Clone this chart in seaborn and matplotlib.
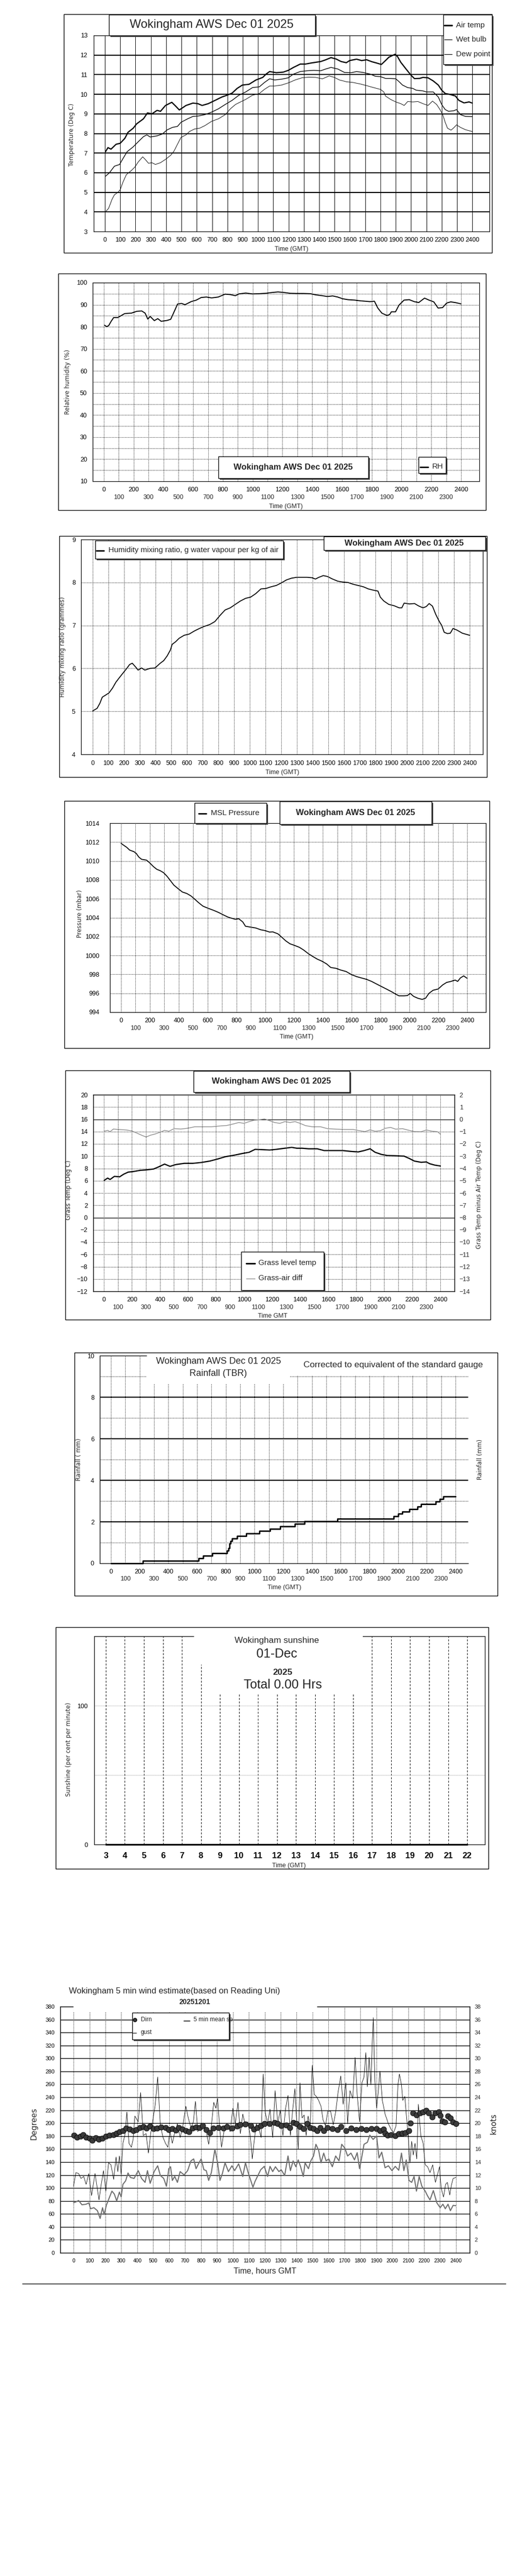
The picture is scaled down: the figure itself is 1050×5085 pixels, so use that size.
import numpy as np
import pandas as pd
import matplotlib
matplotlib.use("Agg")
import matplotlib.pyplot as plt
import seaborn as sns
from matplotlib.patches import Rectangle
from matplotlib.lines import Line2D

sns.set_style("white")
plt.rcParams['font.family'] = ['Liberation Sans', 'DejaVu Sans']

# ---------------- DATA ----------------
TITLE = "Wokingham AWS Dec 01 2025"

# Panel 1: temperatures
air_t = [4, 20, 40, 73, 100, 130, 151, 185, 207, 252, 278, 307, 341, 363, 396, 437, 463, 486, 530, 575, 608, 635, 675, 720, 764, 797, 831, 864, 898, 942, 987, 1031, 1053, 1076, 1120, 1165, 1198, 1232, 1276, 1310, 1343, 1376, 1410, 1443, 1477, 1510, 1543, 1577, 1599, 1644, 1677, 1710, 1744, 1777, 1806, 1833, 1855, 1895, 1911, 1933, 1967, 2000, 2022, 2056, 2078, 2111, 2145, 2178, 2200, 2223, 2256, 2290, 2312, 2346, 2379, 2400]
air_c = [7.07, 7.28, 7.2, 7.45, 7.5, 7.75, 8.06, 8.27, 8.49, 8.75, 9.05, 9.0, 9.18, 9.13, 9.43, 9.59, 9.39, 9.2, 9.43, 9.55, 9.52, 9.43, 9.52, 9.69, 9.86, 9.95, 10.06, 10.3, 10.47, 10.51, 10.73, 10.86, 11.03, 11.16, 11.1, 11.13, 11.22, 11.37, 11.54, 11.54, 11.59, 11.63, 11.67, 11.76, 11.87, 11.8, 11.67, 11.61, 11.72, 11.79, 11.72, 11.76, 11.66, 11.59, 11.52, 11.72, 11.89, 12.04, 11.93, 11.63, 11.29, 10.97, 10.8, 10.81, 10.86, 10.84, 10.68, 10.47, 10.21, 10.04, 9.99, 9.91, 9.69, 9.56, 9.61, 9.55]

wet_t = [4, 29, 62, 96, 118, 145, 185, 218, 252, 274, 296, 341, 374, 408, 441, 474, 497, 541, 575, 608, 653, 697, 742, 786, 831, 875, 920, 964, 1009, 1042, 1076, 1109, 1154, 1198, 1232, 1276, 1321, 1365, 1410, 1443, 1477, 1521, 1566, 1610, 1644, 1688, 1733, 1766, 1800, 1833, 1866, 1900, 1922, 1944, 1978, 2011, 2033, 2078, 2100, 2145, 2178, 2200, 2223, 2245, 2279, 2297, 2323, 2356, 2400]
wet_c = [5.82, 5.99, 6.33, 6.42, 6.72, 7.07, 7.32, 7.58, 7.84, 7.93, 7.82, 7.88, 7.97, 8.19, 8.31, 8.36, 8.57, 8.75, 8.87, 8.89, 8.96, 9.09, 9.26, 9.48, 9.69, 9.95, 10.12, 10.34, 10.38, 10.6, 10.79, 10.73, 10.77, 10.84, 11.03, 11.16, 11.2, 11.22, 11.2, 11.29, 11.37, 11.29, 11.11, 11.1, 11.16, 11.11, 11.03, 10.92, 10.9, 10.81, 10.81, 10.79, 10.64, 10.47, 10.34, 10.3, 10.21, 10.17, 10.12, 10.12, 9.86, 9.48, 9.22, 9.13, 9.16, 9.22, 8.96, 8.87, 8.86]

dew_t = [4, 24, 47, 62, 85, 100, 118, 140, 174, 196, 218, 247, 263, 285, 307, 330, 363, 396, 430, 452, 474, 497, 530, 552, 586, 619, 653, 697, 742, 786, 820, 853, 886, 920, 964, 1009, 1042, 1076, 1109, 1154, 1198, 1243, 1287, 1332, 1376, 1421, 1443, 1465, 1499, 1532, 1577, 1621, 1666, 1710, 1755, 1800, 1822, 1833, 1866, 1900, 1933, 1955, 1978, 2011, 2045, 2078, 2111, 2140, 2167, 2189, 2207, 2223, 2238, 2261, 2279, 2297, 2323, 2356, 2400]
dew_c = [4.01, 4.18, 4.65, 4.87, 5.0, 5.13, 5.52, 5.9, 6.12, 6.29, 6.55, 6.81, 6.68, 6.48, 6.51, 6.42, 6.51, 6.68, 6.89, 7.11, 7.45, 7.8, 7.93, 8.1, 8.23, 8.27, 8.4, 8.62, 8.75, 8.96, 9.26, 9.48, 9.61, 9.74, 9.95, 10.04, 10.25, 10.42, 10.42, 10.47, 10.58, 10.73, 10.84, 10.87, 10.86, 10.79, 10.86, 10.94, 10.86, 10.73, 10.64, 10.6, 10.53, 10.44, 10.34, 10.25, 10.12, 9.91, 9.74, 9.61, 9.52, 9.43, 9.63, 9.61, 9.63, 9.52, 9.43, 9.65, 9.48, 9.22, 8.96, 8.57, 8.27, 8.17, 8.29, 8.44, 8.31, 8.19, 8.1]

# Panel 2: relative humidity
rh_t = [5, 18, 32, 48, 66, 94, 117, 140, 185, 220, 254, 277, 295, 311, 339, 362, 385, 426, 449, 476, 495, 522, 545, 586, 621, 655, 689, 724, 769, 815, 850, 884, 907, 953, 998, 1044, 1090, 1136, 1170, 1205, 1250, 1296, 1342, 1388, 1422, 1468, 1502, 1537, 1571, 1605, 1640, 1685, 1720, 1754, 1788, 1818, 1841, 1868, 1903, 1921, 1932, 1960, 1983, 2017, 2052, 2086, 2116, 2155, 2185, 2217, 2246, 2276, 2304, 2331, 2361, 2400]
rh_pct = [80.7, 80.1, 80.5, 82.4, 84.2, 84.2, 85.1, 86.0, 86.2, 87.0, 87.2, 86.2, 83.5, 84.7, 82.8, 83.7, 82.5, 82.9, 83.4, 87.4, 90.3, 90.6, 90.0, 91.4, 92.1, 93.3, 93.5, 93.1, 93.5, 94.8, 94.6, 94.1, 94.9, 95.3, 94.9, 95.0, 95.2, 95.6, 95.8, 95.6, 95.2, 95.1, 95.1, 95.0, 94.5, 94.1, 93.7, 94.0, 93.5, 92.7, 92.3, 92.1, 91.8, 91.6, 91.4, 91.6, 88.5, 86.2, 85.1, 85.6, 86.8, 86.8, 89.8, 92.1, 92.3, 91.4, 91.0, 93.0, 92.1, 91.3, 88.5, 88.7, 90.8, 91.3, 91.0, 90.4]

# Panel 3: humidity mixing ratio
hmr_t = [0, 28, 46, 61, 83, 104, 126, 148, 169, 195, 217, 235, 252, 274, 289, 311, 332, 365, 397, 430, 452, 474, 495, 506, 528, 550, 582, 615, 647, 680, 712, 745, 778, 810, 843, 876, 908, 941, 973, 1006, 1038, 1071, 1103, 1136, 1169, 1201, 1234, 1266, 1299, 1331, 1364, 1397, 1418, 1440, 1468, 1494, 1527, 1560, 1592, 1625, 1657, 1690, 1723, 1755, 1788, 1816, 1831, 1853, 1885, 1918, 1951, 1968, 1983, 2016, 2049, 2077, 2103, 2124, 2142, 2163, 2185, 2207, 2222, 2238, 2259, 2277, 2294, 2320, 2353, 2400]
hmr_g = [5.01, 5.07, 5.19, 5.33, 5.38, 5.43, 5.54, 5.68, 5.78, 5.9, 6.0, 6.09, 6.12, 6.03, 5.96, 6.01, 5.96, 6.0, 6.01, 6.12, 6.18, 6.29, 6.43, 6.56, 6.62, 6.7, 6.77, 6.8, 6.87, 6.93, 6.98, 7.02, 7.09, 7.23, 7.36, 7.41, 7.49, 7.57, 7.63, 7.66, 7.74, 7.85, 7.86, 7.9, 7.93, 7.99, 8.06, 8.1, 8.12, 8.12, 8.12, 8.11, 8.08, 8.12, 8.16, 8.14, 8.08, 8.03, 8.01, 8.0, 7.96, 7.93, 7.9, 7.85, 7.82, 7.8, 7.66, 7.57, 7.49, 7.46, 7.41, 7.41, 7.52, 7.5, 7.51, 7.45, 7.41, 7.44, 7.51, 7.45, 7.25, 7.09, 7.0, 6.84, 6.81, 6.82, 6.93, 6.89, 6.82, 6.77]

# Panel 4: MSL pressure
msl_t = [0, 17, 40, 59, 90, 106, 123, 142, 177, 201, 225, 248, 272, 296, 319, 343, 366, 395, 426, 456, 485, 508, 537, 568, 603, 638, 674, 709, 740, 769, 792, 816, 844, 863, 899, 934, 969, 1000, 1029, 1052, 1088, 1111, 1142, 1171, 1206, 1237, 1265, 1300, 1331, 1360, 1395, 1426, 1454, 1490, 1525, 1561, 1596, 1632, 1667, 1703, 1738, 1773, 1809, 1845, 1880, 1904, 1927, 1963, 1986, 2005, 2029, 2057, 2088, 2112, 2135, 2164, 2199, 2230, 2258, 2287, 2317, 2334, 2353, 2376, 2400]
msl_mb = [1011.87, 1011.68, 1011.44, 1011.16, 1010.98, 1010.79, 1010.42, 1010.18, 1010.09, 1009.77, 1009.4, 1009.12, 1008.97, 1008.75, 1008.38, 1007.91, 1007.45, 1007.08, 1006.71, 1006.56, 1006.3, 1006.0, 1005.6, 1005.22, 1005.0, 1004.8, 1004.57, 1004.3, 1004.07, 1003.93, 1003.83, 1003.89, 1003.55, 1003.09, 1003.0, 1002.91, 1002.72, 1002.63, 1002.48, 1002.5, 1002.29, 1001.98, 1001.55, 1001.24, 1001.05, 1000.86, 1000.59, 1000.18, 999.88, 999.62, 999.38, 999.1, 998.73, 998.64, 998.45, 998.3, 997.99, 997.77, 997.62, 997.47, 997.25, 996.97, 996.69, 996.41, 996.13, 995.91, 995.73, 995.73, 995.76, 995.99, 995.67, 995.48, 995.35, 995.48, 995.99, 996.32, 996.45, 996.88, 997.15, 997.25, 997.4, 997.25, 997.62, 997.84, 997.58]

# Panel 5: grass temperature and grass-air difference
grass_t = [2, 27, 44, 75, 112, 141, 173, 209, 258, 306, 355, 391, 433, 472, 513, 574, 635, 695, 756, 817, 866, 926, 987, 1036, 1079, 1133, 1182, 1230, 1291, 1340, 1376, 1413, 1461, 1522, 1571, 1643, 1704, 1765, 1814, 1857, 1899, 1935, 1979, 2020, 2081, 2142, 2178, 2215, 2263, 2300, 2324, 2361, 2400]
grass_c = [6.06, 6.43, 6.2, 6.71, 6.63, 7.06, 7.4, 7.49, 7.69, 7.77, 7.91, 8.26, 8.71, 8.34, 8.63, 8.83, 8.83, 8.97, 9.2, 9.57, 9.91, 10.14, 10.43, 10.63, 11.11, 11.06, 11.0, 11.11, 11.29, 11.43, 11.29, 11.29, 11.2, 11.2, 10.91, 10.91, 10.91, 10.77, 10.69, 10.91, 11.2, 10.63, 10.29, 10.11, 10.06, 10.0, 9.63, 9.2, 9.0, 9.06, 8.77, 8.54, 8.4]
gdiff_t = [2, 27, 44, 68, 100, 160, 197, 233, 270, 301, 331, 367, 404, 433, 464, 501, 549, 598, 647, 708, 768, 829, 878, 926, 963, 999, 1036, 1072, 1109, 1145, 1182, 1218, 1255, 1291, 1328, 1364, 1400, 1437, 1486, 1546, 1595, 1656, 1717, 1777, 1826, 1862, 1899, 1935, 1972, 2008, 2045, 2081, 2130, 2166, 2215, 2263, 2300, 2343, 2380, 2400]
gdiff_c = [-0.97, -0.9, -1.01, -0.79, -0.83, -0.87, -0.94, -1.11, -1.3, -1.44, -1.3, -1.19, -1.04, -0.9, -0.97, -0.76, -0.79, -0.73, -0.61, -0.61, -0.61, -0.54, -0.5, -0.37, -0.26, -0.33, -0.19, -0.07, -0.04, 0.03, -0.11, -0.26, -0.33, -0.19, -0.26, -0.19, -0.33, -0.51, -0.61, -0.61, -0.76, -0.8, -0.83, -0.83, -0.93, -1.0, -0.86, -0.97, -0.93, -0.73, -0.66, -0.8, -0.76, -0.87, -1.0, -1.01, -0.87, -0.97, -1.01, -1.21]

# Panel 6: cumulative rainfall (TBR)
rain_t = [0, 221, 610, 641, 705, 807, 818, 826, 834, 842, 878, 942, 1033, 1108, 1180, 1282, 1348, 1578, 1970, 2001, 2029, 2077, 2136, 2160, 2262, 2290, 2314, 2400]
rain_mm = [0.0, 0.11, 0.24, 0.37, 0.48, 0.60, 0.72, 0.96, 1.08, 1.20, 1.32, 1.44, 1.56, 1.67, 1.78, 1.90, 2.03, 2.15, 2.27, 2.40, 2.48, 2.60, 2.73, 2.85, 2.97, 3.10, 3.21, 3.21]

# Panel 7: sunshine
sun_hour = list(range(3, 23))
sun_pct = [0] * 20
SUN_TOTAL = "Total 0.00 Hrs"

# Panel 8: wind
dir_t = [4, 21, 43, 60, 79, 100, 118, 139, 160, 182, 203, 224, 250, 271, 288, 310, 331, 353, 374, 395, 417, 438, 459, 481, 502, 524, 549, 577, 598, 620, 641, 662, 684, 705, 726, 748, 769, 791, 812, 833, 855, 876, 908, 940, 962, 994, 1026, 1047, 1079, 1111, 1132, 1154, 1175, 1197, 1229, 1261, 1282, 1303, 1335, 1357, 1378, 1400, 1421, 1442, 1464, 1485, 1506, 1528, 1549, 1570, 1592, 1624, 1656, 1677, 1709, 1741, 1773, 1805, 1838, 1870, 1902, 1923, 1944, 1955, 1972, 1994, 2019, 2041, 2062, 2083, 2105, 2115, 2130, 2152, 2173, 2194, 2211, 2228, 2250, 2271, 2292, 2301, 2314, 2329, 2350, 2365, 2382, 2400]
dir_deg = [181.6, 178, 179.5, 182.5, 178.6, 176.5, 173.5, 177.4, 175, 176.5, 179.5, 181.6, 182.5, 184.6, 187, 188.6, 192.5, 190.7, 188.6, 190, 193, 194.6, 192.5, 195.5, 191.6, 192.5, 193.7, 193, 190, 191.6, 189.5, 193, 190.7, 188.6, 187, 192.5, 193.7, 193, 196, 190, 185.5, 192.5, 193, 192.5, 194.6, 192.5, 195.5, 197.6, 198.5, 196, 190.7, 193, 196, 199, 199, 200.6, 199, 196, 196.7, 193, 200.6, 199, 194.6, 191.6, 199, 193, 191.6, 188.6, 193, 188.6, 193, 191.6, 190, 194.6, 188.6, 192.5, 190, 191.6, 190, 191.6, 191.6, 188.6, 190.7, 184.6, 181.6, 182.5, 181, 184, 184.6, 185.5, 188.6, 200, 215.7, 212.7, 215.7, 217, 220, 215.7, 209.6, 215.7, 217, 211.7, 203.6, 202, 211, 208, 202, 199.7]

spd_t = [0, 15, 32, 53, 79, 96, 107, 128, 150, 167, 182, 192, 207, 224, 241, 256, 271, 288, 299, 310, 327, 342, 357, 380, 406, 427, 449, 464, 481, 506, 528, 545, 566, 583, 598, 609, 620, 635, 652, 669, 694, 716, 737, 754, 769, 784, 801, 818, 833, 848, 865, 887, 904, 919, 934, 951, 972, 994, 1011, 1036, 1062, 1079, 1096, 1126, 1139, 1154, 1175, 1197, 1218, 1233, 1250, 1267, 1289, 1303, 1325, 1346, 1361, 1378, 1395, 1410, 1425, 1442, 1453, 1474, 1489, 1506, 1521, 1538, 1553, 1570, 1585, 1602, 1624, 1645, 1666, 1683, 1703, 1720, 1741, 1763, 1780, 1795, 1810, 1823, 1844, 1859, 1880, 1902, 1917, 1934, 1955, 1976, 1998, 2019, 2041, 2058, 2073, 2088, 2105, 2122, 2137, 2152, 2169, 2186, 2207, 2222, 2237, 2258, 2280, 2301, 2318, 2333, 2350, 2365, 2382, 2400]
spd_kt = [7.7, 7.86, 8.07, 7.41, 7.5, 7.7, 6.8, 6.96, 6.5, 5.3, 6.96, 5.9, 7.41, 8.46, 9.52, 9.07, 8.01, 9.37, 8.61, 10.57, 11.11, 12.32, 11.63, 11.48, 12.68, 11.48, 10.87, 12.68, 10.72, 12.53, 13.43, 11.93, 11.48, 10.27, 12.98, 13.28, 11.17, 11.78, 10.87, 12.53, 12.02, 12.68, 14.19, 14.49, 12.98, 13.73, 14.49, 12.83, 12.68, 11.17, 12.38, 15.99, 13.89, 11.17, 12.23, 13.89, 12.53, 13.43, 12.68, 13.73, 11.78, 13.89, 12.38, 10.12, 11.02, 11.78, 12.83, 13.34, 11.78, 13.34, 12.53, 13.28, 12.53, 12.83, 11.93, 14.94, 12.68, 14.19, 13.28, 14.34, 13.28, 11.78, 13.89, 12.98, 14.19, 14.94, 16.75, 15.84, 13.89, 15.39, 14.19, 14.49, 13.28, 14.94, 14.19, 16.75, 16.14, 14.94, 15.39, 14.34, 15.45, 12.98, 14.94, 16.75, 17.05, 18.16, 17.5, 18.04, 14.64, 15.54, 13.13, 13.43, 12.68, 13.34, 12.74, 15.39, 12.68, 14.34, 11.17, 10.87, 11.78, 9.52, 11.78, 10.27, 9.52, 8.77, 8.16, 9.61, 7.71, 6.96, 7.5, 6.8, 7.5, 6.5, 7.32, 7.26]

gust_t = [0, 15, 32, 47, 64, 79, 96, 113, 135, 160, 173, 188, 203, 220, 235, 252, 267, 278, 288, 299, 310, 323, 335, 348, 363, 374, 385, 406, 421, 438, 455, 470, 485, 498, 513, 528, 545, 562, 577, 592, 605, 620, 635, 652, 669, 684, 705, 720, 737, 752, 765, 780, 801, 818, 833, 848, 865, 880, 893, 904, 919, 929, 944, 962, 983, 1000, 1015, 1032, 1047, 1062, 1079, 1094, 1109, 1122, 1132, 1147, 1165, 1177, 1190, 1203, 1218, 1233, 1250, 1265, 1282, 1297, 1314, 1331, 1346, 1361, 1374, 1389, 1400, 1410, 1421, 1434, 1447, 1460, 1472, 1485, 1498, 1511, 1524, 1538, 1553, 1566, 1581, 1596, 1613, 1630, 1645, 1660, 1677, 1692, 1709, 1720, 1735, 1752, 1767, 1780, 1795, 1810, 1823, 1834, 1844, 1855, 1866, 1874, 1881, 1891, 1902, 1912, 1923, 1938, 1955, 1976, 1994, 2009, 2024, 2036, 2045, 2058, 2066, 2079, 2088, 2100, 2111, 2122, 2132, 2143, 2154, 2164, 2179, 2194, 2207, 2222, 2237, 2254, 2271, 2284, 2297, 2307, 2322, 2335, 2346, 2361, 2371, 2382, 2400]
gust_kt = [10.27, 12.38, 12.23, 11.48, 11.78, 10.57, 12.23, 8.83, 12.23, 8.16, 10.42, 12.68, 9.52, 13.89, 13.58, 11.33, 14.79, 12.53, 14.94, 12.08, 16.9, 18.25, 21.72, 16.9, 16.3, 17.5, 21.11, 20.21, 24.73, 18.1, 18.4, 15.39, 18.55, 20.51, 22.92, 27.14, 19.61, 17.8, 16.9, 16.3, 18.7, 16.9, 18.55, 19.91, 17.8, 19.31, 22.62, 20.81, 19.31, 20.21, 23.37, 18.7, 19.91, 19.16, 18.7, 16.75, 19.61, 23.22, 22.32, 23.83, 18.7, 16.3, 18.7, 19.91, 18.7, 22.32, 19.91, 23.22, 18.4, 21.42, 19.61, 20.21, 18.1, 14.49, 16.9, 19.91, 19.0, 17.8, 27.59, 21.72, 19.91, 22.17, 17.8, 25.03, 19.91, 22.02, 18.1, 22.32, 24.28, 18.1, 21.72, 25.33, 20.51, 15.99, 26.23, 20.81, 21.27, 18.1, 21.11, 19.31, 28.95, 24.43, 24.13, 23.52, 22.62, 20.51, 19.61, 21.87, 21.87, 19.76, 21.72, 24.73, 27.29, 22.92, 26.23, 19.91, 25.03, 23.83, 30.15, 24.43, 20.21, 26.23, 27.14, 30.9, 25.63, 30.15, 25.93, 31.96, 36.3, 26.54, 22.32, 24.73, 28.04, 23.52, 21.42, 19.91, 19.0, 18.55, 19.61, 25.93, 27.59, 25.93, 23.52, 24.13, 21.42, 18.1, 13.89, 17.2, 15.09, 16.9, 14.49, 22.92, 18.1, 16.9, 13.58, 13.28, 12.38, 13.58, 10.87, 12.08, 13.28, 9.97, 8.61, 10.57, 10.87, 8.92, 10.42, 11.48, 11.63]

# ---------------- FIGURE ----------------
W, H = 1050, 5085
fig = plt.figure(figsize=(W / 100, H / 100), dpi=100)
fig.patch.set_facecolor("white")
DOT = (0, (1, 1.6))


def add_ax(x0, y0, x1, y1):
    ax = fig.add_axes([x0 / W, 1 - y1 / H, (x1 - x0) / W, (y1 - y0) / H])
    ax.set_facecolor("white")
    for s in ax.spines.values():
        s.set_color("black")
        s.set_linewidth(0.9)
    ax.tick_params(length=0, labelsize=9, colors="black")
    return ax


def rect(x0, y0, x1, y1, fc=None, ec="black", lw=1.0, z=1.5):
    fig.patches.append(Rectangle((x0 / W, 1 - y1 / H), (x1 - x0) / W, (y1 - y0) / H,
                                 transform=fig.transFigure, fill=fc is not None,
                                 facecolor=fc if fc else "white", edgecolor=ec,
                                 lw=lw, zorder=z))


def box(x0, y0, x1, y1, shadow=3):
    if shadow:
        rect(x0 + shadow, y0 + shadow, x1 + shadow, y1 + shadow, fc="#4a4a4a", ec="#4a4a4a", lw=0, z=4)
    rect(x0, y0, x1, y1, fc="white", ec="black", lw=1.0, z=4.1)


def ftext(x, y, s, **kw):
    kw.setdefault("ha", "center")
    kw.setdefault("va", "center")
    kw.setdefault("zorder", 5)
    fig.text(x / W, 1 - y / H, s, **kw)


def fline(x0, x1, y0, y1=None, **kw):
    if y1 is None:
        y1 = y0
    kw.setdefault("zorder", 5)
    fig.add_artist(Line2D([x0 / W, x1 / W], [1 - y0 / H, 1 - y1 / H], **kw))


def ylab(x, y, s, fs=8.5):
    ftext(x, y, s, rotation=90, fontsize=fs, family=["DejaVu Sans"])


def vgrid(ax, step=100, ls=DOT, lw=0.8):
    for t in range(0, 2401, step):
        ax.axvline(t, color="black", lw=lw, ls=ls, zorder=1)


def hgrid(ax, vals, ls=DOT, lw=0.8, color="black"):
    for v in vals:
        ax.axhline(v, color=color, lw=lw, ls=ls, zorder=1)


def one_row_x(ax, pad, fs=9):
    ax.set_xticks(range(0, 2401, 100))
    ax.set_xticklabels([str(v) for v in range(0, 2401, 100)])
    ax.tick_params(axis="x", pad=pad, labelsize=fs, length=0)


def two_row_x(ax, pad1, pad2, fs=9):
    ax.set_xticks(range(0, 2401, 200))
    ax.set_xticklabels([str(v) for v in range(0, 2401, 200)])
    ax.set_xticks(range(100, 2400, 200), minor=True)
    ax.set_xticklabels([str(v) for v in range(100, 2400, 200)], minor=True)
    ax.tick_params(axis="x", which="major", pad=pad1, labelsize=fs, length=0)
    ax.tick_params(axis="x", which="minor", pad=pad2, labelsize=fs, length=0)


def line(ax, x, y, **kw):
    sns.lineplot(x=x, y=y, ax=ax, estimator=None, sort=False, legend=False, **kw)


# ======== Panel 1: Temperature ========
rect(126, 28, 971, 499)
ax = add_ax(185, 70, 966, 457)
ax.set_xlim(-73, 2512)
ax.set_ylim(3, 13)
hgrid(ax, range(4, 13), ls="-", lw=1.5)
vgrid(ax, ls="-", lw=0.7)
line(ax, dew_t, dew_c, color="black", lw=0.7, zorder=3)
line(ax, wet_t, wet_c, color="black", lw=1.0, zorder=3)
line(ax, air_t, air_c, color="black", lw=1.7, zorder=3)
one_row_x(ax, pad=8)
ax.set_yticks(range(3, 14))
ax.tick_params(axis="y", pad=9)
ax.set_xlabel("")
ax.set_ylabel("")
box(215, 29, 622, 70)
ftext(418, 49, TITLE, fontsize=17)
box(875, 29, 971, 127, shadow=3)
for yy, lab, lw in [(50, "Air temp", 2.2), (78, "Wet bulb", 0.9), (107, "Dew point", 0.9)]:
    fline(877, 892, yy, color="black", lw=lw)
    ftext(900, yy, lab, ha="left", fontsize=11)
ftext(575, 492, "Time (GMT)", fontsize=9)
ylab(141, 266, "Temperature (Deg C)")

# ======== Panel 2: RH ========
rect(115, 540, 959, 1007)
ax = add_ax(183, 558, 946, 950)
ax.set_xlim(-75, 2523)
ax.set_ylim(10, 100)
hgrid(ax, range(15, 100, 5))
vgrid(ax)
line(ax, rh_t, rh_pct, color="black", lw=1.4, zorder=3)
two_row_x(ax, 8, 19)
ax.set_yticks(range(10, 101, 10))
ax.tick_params(axis="y", pad=8)
ax.set_xlabel("")
ax.set_ylabel("")
box(431, 901, 727, 944)
ftext(579, 922, TITLE, fontsize=12, fontweight="bold")
box(826, 902, 880, 934)
fline(829, 845, 922, color="black", lw=2.0)
ftext(853, 921, "RH", ha="left", fontsize=11)
ftext(564, 1000, "Time (GMT)", fontsize=9)
ylab(133, 754, "Relative humidity (%)")

# ======== Panel 3: mixing ratio ========
rect(117, 1058, 961, 1534)
ax = add_ax(160, 1065, 953, 1489)
ax.set_xlim(-74, 2484)
ax.set_ylim(4, 9)
hgrid(ax, [5, 6, 7, 8])
vgrid(ax)
line(ax, hmr_t, hmr_g, color="black", lw=1.3, zorder=3)
one_row_x(ax, pad=9)
ax.set_yticks(range(4, 10))
ax.tick_params(axis="y", pad=8)
ax.set_xlabel("")
ax.set_ylabel("")
box(188, 1067, 559, 1103)
fline(190, 205, 1087, color="black", lw=2.0)
ftext(214, 1086, "Humidity mixing ratio, g water vapour per kg of air", ha="left", fontsize=11)
box(639, 1059, 958, 1086)
ftext(798, 1072, TITLE, fontsize=12, fontweight="bold")
ftext(557, 1525, "Time (GMT)", fontsize=9)
ylab(124, 1277, "Humidity mixing ratio (grammes)")

# ======== Panel 4: pressure ========
rect(127, 1581, 966, 2069)
ax = add_ax(217, 1625, 959, 1998)
ax.set_xlim(-77, 2530)
ax.set_ylim(994, 1014)
hgrid(ax, range(996, 1013, 2))
vgrid(ax)
line(ax, msl_t, msl_mb, color="black", lw=1.3, zorder=3)
two_row_x(ax, 8, 19)
ax.set_yticks(range(994, 1015, 2))
ax.tick_params(axis="y", pad=15)
ax.set_xlabel("")
ax.set_ylabel("")
box(384, 1585, 526, 1625)
fline(392, 407, 1606, color="black", lw=2.0)
ftext(416, 1605, "MSL Pressure", ha="left", fontsize=11)
box(552, 1582, 852, 1627)
ftext(702, 1604, TITLE, fontsize=12, fontweight="bold")
ftext(585, 2047, "Time (GMT)", fontsize=9)
ylab(158, 1804, "Pressure (mbar)")

# ======== Panel 5: grass ========
rect(129, 2113, 968, 2605)
ax = add_ax(184, 2161, 897, 2549)
ax.set_xlim(-76, 2501)
ax.set_ylim(-12, 20)
hgrid(ax, [v for v in range(-10, 19, 2) if v not in (0, 16)])
hgrid(ax, [0, 16], ls="-", lw=0.9)
vgrid(ax)
line(ax, grass_t, grass_c, color="black", lw=1.7, zorder=3)
two_row_x(ax, 8, 19)
ax.set_yticks(range(-12, 21, 2))
ax.tick_params(axis="y", pad=8)
ax.set_xlabel("")
ax.set_ylabel("")
axr = ax.twinx()
axr.set_ylim(-14, 2)
line(axr, gdiff_t, gdiff_c, color="#8a8a8a", lw=1.0, zorder=3)
axr.set_yticks(range(-14, 3))
axr.tick_params(axis="y", length=0, pad=7, labelsize=9)
axr.set_ylabel("")
for s in axr.spines.values():
    s.set_color("black")
    s.set_linewidth(0.9)
box(382, 2114, 690, 2156)
ftext(536, 2135, TITLE, fontsize=12, fontweight="bold")
box(476, 2471, 639, 2547)
fline(486, 503, 2494, color="black", lw=2.2)
ftext(510, 2493, "Grass level temp", ha="left", fontsize=11)
fline(486, 503, 2524, color="#8a8a8a", lw=1.0)
ftext(510, 2523, "Grass-air diff", ha="left", fontsize=11)
ftext(538, 2598, "Time GMT", fontsize=9)
ylab(136, 2349, "Grass Temp (Deg C)")
ylab(945, 2359, "Grass Temp minus Air Temp (Deg C)")

# ======== Panel 6: rainfall ========
rect(147, 2670, 982, 3150)
ax = add_ax(197, 2676, 924, 3086)
ax.set_xlim(-78, 2488)
ax.set_ylim(0, 10)
ax.spines["top"].set_visible(False)
ax.spines["right"].set_visible(False)
hgrid(ax, [2, 4, 6, 8], ls="-", lw=1.6)
hgrid(ax, [1, 3, 5, 7, 9])
vgrid(ax)
line(ax, rain_t, rain_mm, color="black", lw=2.0, drawstyle="steps-post", zorder=3, clip_on=False)
two_row_x(ax, 8, 18)
ax.set_yticks(range(0, 11, 2))
ax.tick_params(axis="y", pad=8)
ax.set_xlabel("")
ax.set_ylabel("")
fline(197, 289, 2676, color="black", lw=0.9)
rect(289, 2674, 573, 2731, fc="white", ec="white", lw=0, z=4)
rect(573, 2674, 930, 2716, fc="white", ec="white", lw=0, z=4)
ftext(431, 2688, TITLE, fontsize=13)
ftext(431, 2712, "Rainfall (TBR)", fontsize=13)
ftext(776, 2694, "Corrected to equivalent of the standard gauge", fontsize=12.5)
ftext(561, 3134, "Time (GMT)", fontsize=9)
ylab(155, 2881, "Rainfall ( mm)")
ylab(947, 2881, "Rainfall (mm)")

# ======== Panel 7: sunshine ========
rect(110, 3212, 964, 3689)
ax = add_ax(186, 3230, 957, 3641)
ax.set_xlim(2.39, 22.93)
ax.set_ylim(0, 150)
for h in sun_hour:
    ax.axvline(h, color="black", lw=0.7, ls=(0, (4, 3)), zorder=1)
hgrid(ax, [50, 100], ls=(0, (1, 1)), lw=0.7, color="#9a9a9a")
line(ax, sun_hour, sun_pct, color="black", lw=2.4, zorder=3, clip_on=False)
ax.set_xticks(sun_hour)
ax.set_xticklabels([str(h) for h in sun_hour])
ax.tick_params(axis="x", pad=11, labelsize=12)
for lab in ax.get_xticklabels():
    lab.set_fontweight("bold")
ax.set_yticks([0, 100])
ax.tick_params(axis="y", pad=9)
ax.set_xlabel("")
ax.set_ylabel("")
rect(383, 3228, 716, 3286, fc="white", ec="white", lw=0, z=4)
rect(399, 3285, 706, 3343, fc="white", ec="white", lw=0, z=4)
ftext(546, 3238, "Wokingham sunshine", fontsize=12.5)
ftext(546, 3265, "01-Dec", fontsize=18)
ftext(558, 3301, "2025", fontsize=12.5, fontweight="bold")
ftext(558, 3326, SUN_TOTAL, fontsize=18)
ftext(570, 3683, "Time (GMT)", fontsize=9)
ylab(135, 3453, "Sunshine (per cent per minute)")

# ======== Panel 8: wind ========
ax = add_ax(119, 3961, 927, 4447)
ax.set_xlim(-83, 2486)
ax.set_ylim(0, 380)
axr = ax.twinx()
axr.set_ylim(0, 38)
for v in range(2, 38, 2):
    axr.axhline(v, color="black", lw=1.0, zorder=1)
for t in range(0, 2401, 100):
    axr.axvline(t, color="black", lw=0.8, ls=DOT, zorder=1)
line(axr, gust_t, gust_kt, color="black", lw=0.6, zorder=3)
line(axr, spd_t, spd_kt, color="#6e6e6e", lw=1.5, zorder=3)
ax.set_zorder(axr.get_zorder() + 1)
ax.patch.set_visible(False)
sns.scatterplot(x=dir_t, y=dir_deg, ax=ax, s=60, color="#3a3a3a", edgecolor="black",
                linewidth=0.6, zorder=4, legend=False)
one_row_x(ax, pad=8, fs=7.5)
ax.set_yticks(range(0, 381, 20))
ax.tick_params(axis="y", pad=8, labelsize=8)
axr.set_yticks(range(0, 39, 2))
axr.tick_params(axis="y", length=0, pad=7, labelsize=8)
for a in (ax, axr):
    a.set_xlabel("")
    a.set_ylabel("")
    for s in a.spines.values():
        s.set_color("black")
        s.set_linewidth(0.9)
rect(145, 3930, 626, 3972, fc="white", ec="white", lw=0, z=4)
ftext(136, 3930, "Wokingham 5 min wind estimate(based on Reading Uni)", ha="left", fontsize=12)
ftext(384, 3952, "20251201", fontsize=10, fontweight="bold")
box(261, 3973, 452, 4026, shadow=3)
fig.add_artist(Line2D([266 / W], [1 - 3987 / H], marker="o", ms=5, color="#3a3a3a",
                      markeredgecolor="black", ls="none", zorder=5))
ftext(278, 3987, "Dirn", ha="left", fontsize=8.5)
fline(363, 374, 3989, color="#6e6e6e", lw=2)
ftext(382, 3987, "5 min mean sp", ha="left", fontsize=8.5)
fline(262, 269, 4013, color="black", lw=0.8)
ftext(278, 4012, "gust", ha="left", fontsize=8.5)
ftext(523, 4484, "Time, hours GMT", fontsize=11.5)
ylab(67, 4192, "Degrees", fs=11)
ylab(974, 4192, "knots", fs=11)
fline(44, 998, 4508, color="black", lw=1.0)

fig.savefig("out.png", dpi=100, facecolor="white")
